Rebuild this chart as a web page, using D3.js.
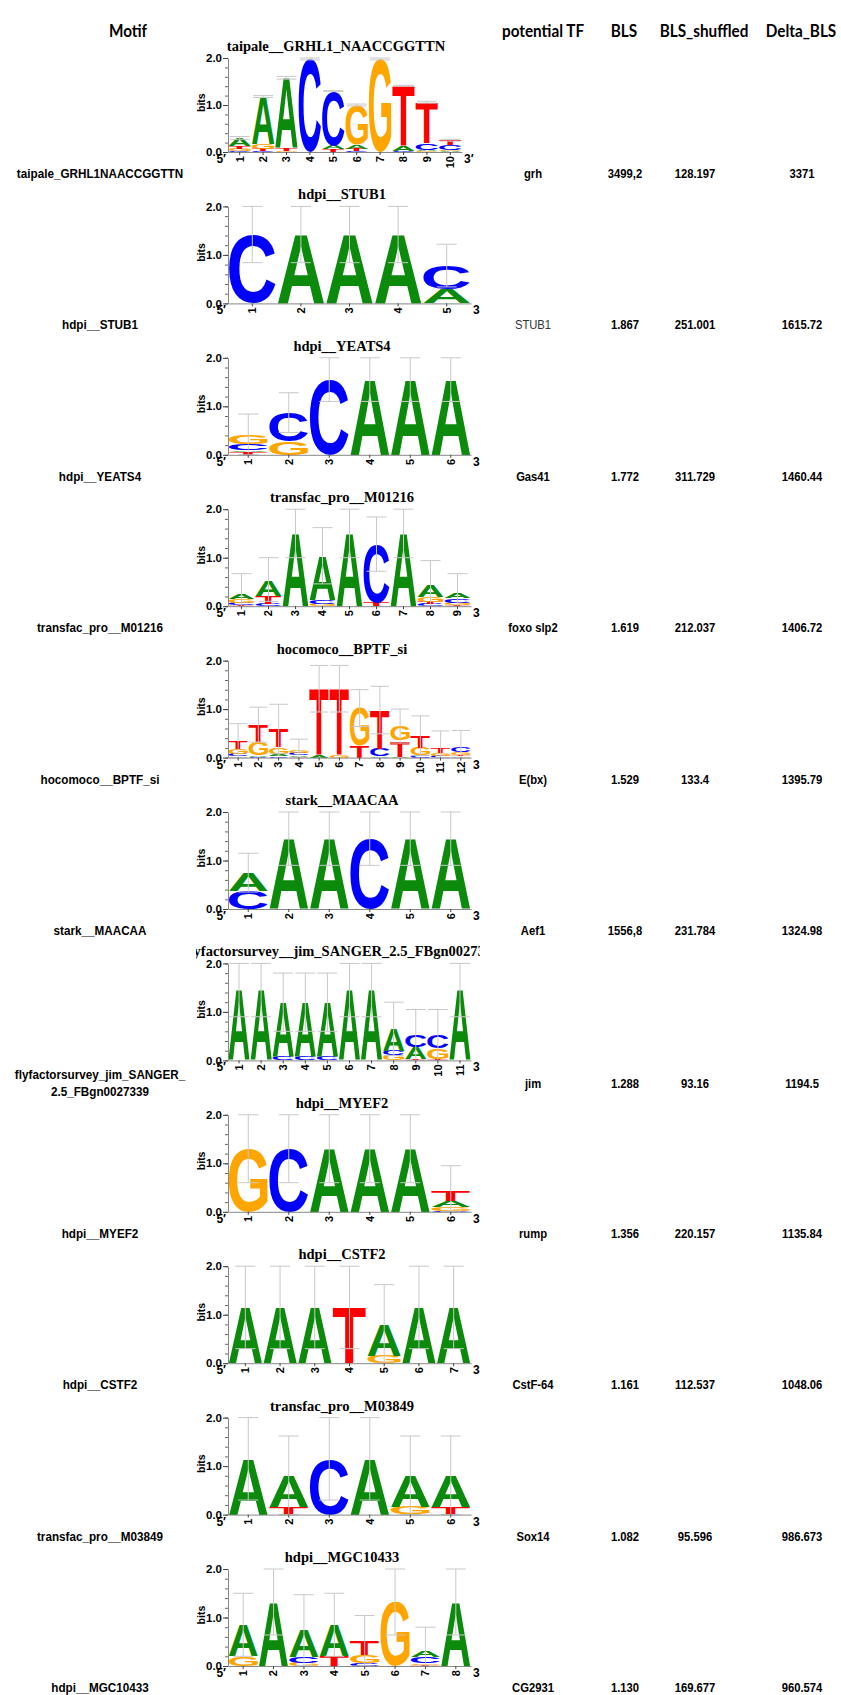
<!DOCTYPE html>
<html>
<head>
<meta charset="utf-8">
<script src="https://cdnjs.cloudflare.com/ajax/libs/d3/7.8.5/d3.min.js"></script>
<style>
  body{margin:0;background:#fff;}
</style>
</head>
<body>
<div id="content"></div>
<script>
(function(){

  //////////////////////////////////////////////////////////////
  //////////////////////// table data //////////////////////////
  //////////////////////////////////////////////////////////////
  var headers = ["Motif", "potential TF", "BLS", "BLS_shuffled", "Delta_BLS"];

  var motifTitles = ["taipale__GRHL1_NAACCGGTTN", "hdpi__STUB1", "hdpi__YEATS4",
    "transfac_pro__M01216", "hocomoco__BPTF_si", "stark__MAACAA",
    "flyfactorsurvey__jim_SANGER_2.5_FBgn0027339", "hdpi__MYEF2", "hdpi__CSTF2",
    "transfac_pro__M03849", "hdpi__MGC10433"];

  var motifLabels = ["taipale_GRHL1NAACCGGTTN", "hdpi__STUB1", "hdpi__YEATS4",
    "transfac_pro__M01216", "hocomoco__BPTF_si", "stark__MAACAA",
    "flyfactorsurvey_jim_SANGER_|2.5_FBgn0027339", "hdpi__MYEF2", "hdpi__CSTF2",
    "transfac_pro__M03849", "hdpi__MGC10433"];

  var potentialTF = ["grh", "STUB1", "Gas41", "foxo slp2", "E(bx)", "Aef1", "jim",
    "rump", "CstF-64", "Sox14", "CG2931"];
  var bls = ["3499,2", "1.867", "1.772", "1.619", "1.529", "1556,8", "1.288",
    "1.356", "1.161", "1.082", "1.130"];
  var blsShuffled = ["128.197", "251.001", "311.729", "212.037", "133.4", "231.784",
    "93.16", "220.157", "112.537", "95.596", "169.677"];
  var deltaBls = ["3371", "1615.72", "1460.44", "1406.72", "1395.79", "1324.98",
    "1194.5", "1135.84", "1048.06", "986.673", "960.574"];

  //////////////////////////////////////////////////////////////
  //////////////////////// logo data (bits) ////////////////////
  //////////////////////////////////////////////////////////////
  // each column: letters bottom -> top, [letter, bits]
  var logoGRHL1 = [
    [["C",0.02],["G",0.05],["T",0.06],["A",0.17]],
    [["C",0.02],["T",0.04],["G",0.10],["A",1.02]],
    [["C",0.01],["G",0.02],["T",0.05],["A",1.50]],
    [["C",1.98]],
    [["G",0.01],["T",0.05],["A",0.08],["C",1.16]],
    [["C",0.02],["T",0.05],["A",0.08],["G",0.85]],
    [["G",1.98]],
    [["C",0.02],["A",0.12],["T",1.27]],
    [["G",0.02],["A",0.03],["C",0.15],["T",0.86]],
    [["A",0.02],["G",0.03],["C",0.10],["T",0.10]]
  ];
  var errGRHL1 = [0.33, 1.20, 1.61, 2.0, 1.31, 1.02, 2.0, 1.42, 1.08, 0.27];

  var logoSTUB1 = [
    [["C",1.42]], [["A",1.42]], [["A",1.42]], [["A",1.42]],
    [["A",0.30],["C",0.48]]
  ];
  var errSTUB1 = [2.0, 2.0, 2.0, 2.0, 1.22];

  var logoYEATS4 = [
    [["T",0.06],["A",0.03],["C",0.13],["G",0.18]],
    [["G",0.27],["C",0.60]],
    [["C",1.55]], [["A",1.55]], [["A",1.55]], [["A",1.55]]
  ];
  var errYEATS4 = [0.84, 1.28, 2.0, 2.0, 2.0, 2.0];

  var logoM01216 = [
    [["T",0.02],["C",0.05],["G",0.07],["A",0.11]],
    [["C",0.05],["T",0.17],["A",0.33]],
    [["A",1.50]],
    [["G",0.04],["C",0.08],["A",0.92]],
    [["A",1.50]],
    [["T",0.08],["C",1.20]],
    [["A",1.50]],
    [["C",0.04],["T",0.05],["G",0.10],["A",0.23]],
    [["T",0.02],["G",0.05],["C",0.09],["A",0.10]]
  ];
  var errM01216 = [0.67, 1.0, 2.0, 1.62, 2.0, 1.84, 2.0, 0.94, 0.67];

  var logoBPTF = [
    [["A",0.03],["C",0.05],["G",0.10],["T",0.15]],
    [["C",0.02],["A",0.03],["G",0.28],["T",0.35]],
    [["C",0.03],["A",0.05],["G",0.13],["T",0.38]],
    [["T",0.02],["A",0.03],["C",0.04],["G",0.04]],
    [["A",0.06],["T",1.36]],
    [["G",0.05],["T",1.37]],
    [["T",0.24],["G",0.78]],
    [["A",0.03],["C",0.15],["T",0.80]],
    [["A",0.02],["T",0.33],["G",0.30]],
    [["C",0.05],["G",0.15],["T",0.25]],
    [["C",0.04],["G",0.06],["T",0.10]],
    [["A",0.03],["T",0.03],["G",0.05],["C",0.10]]
  ];
  var errBPTF = [0.70, 1.04, 1.10, 0.38, 1.90, 1.90, 1.40, 1.47, 1.00, 0.86, 0.55, 0.56];

  var logoMAACAA = [
    [["C",0.38],["A",0.37]],
    [["A",1.45]], [["A",1.45]], [["C",1.45]], [["A",1.45]], [["A",1.45]]
  ];
  var errMAACAA = [1.15, 2.0, 2.0, 2.0, 2.0, 2.0];

  var logoJim = [
    [["A",1.45]], [["A",1.45]],
    [["C",0.08],["A",1.12]], [["C",0.08],["A",1.12]], [["C",0.08],["A",1.12]],
    [["A",1.45]], [["A",1.45]],
    [["G",0.10],["C",0.10],["A",0.45]],
    [["T",0.03],["A",0.24],["C",0.25]],
    [["T",0.03],["G",0.22],["C",0.26]],
    [["A",1.45]]
  ];
  var errJim = [2.0, 2.0, 1.8, 1.8, 1.8, 2.0, 2.0, 1.2, 1.05, 1.05, 2.0];

  var logoMYEF2 = [
    [["G",1.30]], [["C",1.30]], [["A",1.30]], [["A",1.30]], [["A",1.30]],
    [["C",0.02],["G",0.07],["A",0.13],["T",0.22]]
  ];
  var errMYEF2 = [2.0, 2.0, 2.0, 2.0, 2.0, 0.95];

  var logoCSTF2 = [
    [["A",1.15]], [["A",1.15]], [["A",1.15]], [["T",1.15]],
    [["G",0.15],["A",0.65]],
    [["A",1.15]], [["A",1.15]]
  ];
  var errCSTF2 = [2.0, 2.0, 2.0, 2.0, 1.62, 2.0, 2.0];

  var logoM03849 = [
    [["A",1.15]],
    [["T",0.15],["A",0.65]],
    [["C",1.15]],
    [["A",1.15]],
    [["G",0.15],["A",0.65]],
    [["T",0.15],["A",0.65]]
  ];
  var errM03849 = [2.0, 1.62, 2.0, 2.0, 1.62, 1.62];

  var logoMGC10433 = [
    [["G",0.20],["A",0.65]],
    [["A",1.32]],
    [["G",0.07],["C",0.12],["A",0.55]],
    [["T",0.20],["A",0.65]],
    [["C",0.06],["G",0.17],["T",0.28]],
    [["G",1.32]],
    [["T",0.03],["G",0.03],["C",0.13],["A",0.12]],
    [["A",1.32]]
  ];
  var errMGC10433 = [1.50, 2.0, 1.47, 1.50, 1.04, 2.0, 0.80, 2.0];

  var logos = [logoGRHL1, logoSTUB1, logoYEATS4, logoM01216, logoBPTF, logoMAACAA,
    logoJim, logoMYEF2, logoCSTF2, logoM03849, logoMGC10433];
  var errors = [errGRHL1, errSTUB1, errYEATS4, errM01216, errBPTF, errMAACAA,
    errJim, errMYEF2, errCSTF2, errM03849, errMGC10433];

  //////////////////////////////////////////////////////////////
  //////////////////////// layout //////////////////////////////
  //////////////////////////////////////////////////////////////
  var width = 841, height = 1695;
  var labelFont = "'Liberation Sans', Arial, sans-serif";
  var logoFont = "'Liberation Sans', Arial, sans-serif";
  var colors = {A: "#0b8a0b", C: "#0000ff", G: "#ffa500", T: "#ff0000"};
  var narrow = 0.9;   // labels look like a condensed face

  var svg = d3.select("#content").append("svg")
      .attr("width", width)
      .attr("height", height);

  // zero line of each logo, one row per motif
  var rowY = d3.scalePoint()
      .domain(d3.range(motifTitles.length))
      .range([152, 1666]);

  // table columns (header / cell centres)
  var headX = d3.scaleOrdinal()
      .domain(headers)
      .range([128, 543, 624, 704, 801]);
  var cellX = d3.scaleOrdinal()
      .domain(headers)
      .range([100, 533, 625, 695, 802]);

  // glyph ink boxes, measured once on a canvas
  var ctx = document.createElement("canvas").getContext("2d");
  ctx.font = "bold 100px " + logoFont;
  var metrics = {};
  "ACGT".split("").forEach(function(l){
    var m = ctx.measureText(l);
    metrics[l] = {L: m.actualBoundingBoxLeft, R: m.actualBoundingBoxRight,
                  A: m.actualBoundingBoxAscent, D: m.actualBoundingBoxDescent};
  });

  //////////////////////////////////////////////////////////////
  //////////////////////// header //////////////////////////////
  //////////////////////////////////////////////////////////////
  svg.selectAll(".header")
      .data(headers)
    .enter().append("g")
      .attr("class", "header")
      .attr("transform", function(d){ return "translate(" + headX(d) + ",37) scale(0.9,1)"; })
    .append("text")
      .attr("text-anchor", "middle")
      .style("font-family", "Lato, 'Open Sans', sans-serif")
      .style("font-weight", "bold")
      .style("font-size", "17px")
      .text(function(d){ return d; });

  //////////////////////////////////////////////////////////////
  //////////////////////// rows ////////////////////////////////
  //////////////////////////////////////////////////////////////
  svg.append("defs").append("clipPath")
      .attr("id", "logoClip")
    .append("rect")
      .attr("x", 196).attr("y", 0)
      .attr("width", 284).attr("height", height);

  motifTitles.forEach(function(title, i){
    var zero = rowY(i);
    var textY = zero + 26;

    // motif label, may wrap onto two lines
    var lines = motifLabels[i].split("|");
    svg.append("g")
        .attr("transform", "translate(" + cellX("Motif") + "," + (textY - (lines.length - 1) * 7) + ") scale(" + narrow + ",1)")
      .selectAll("text")
        .data(lines)
      .enter().append("text")
        .attr("y", function(d, k){ return k * 17; })
        .attr("text-anchor", "middle")
        .style("font-family", labelFont)
        .style("font-weight", "bold")
        .style("font-size", "13px")
        .text(function(d){ return d; });

    var cells = [potentialTF[i], bls[i], blsShuffled[i], deltaBls[i]];
    svg.selectAll(".cell" + i)
        .data(cells)
      .enter().append("g")
        .attr("class", "cell" + i)
        .attr("transform", function(d, k){
          return "translate(" + cellX(headers[k + 1]) + "," + (textY + (lines.length - 1) * 2) + ") scale(" + narrow + ",1)";
        })
      .append("text")
        .attr("text-anchor", "middle")
        .style("font-family", labelFont)
        .style("font-weight", function(d, k){ return (i === 1 && k === 0) ? "normal" : "bold"; })
        .style("fill", function(d, k){ return (i === 1 && k === 0) ? "#333" : "#000"; })
        .style("font-size", "12.5px")
        .text(function(d){ return d; });

    drawLogo(i, zero);
  });

  //////////////////////////////////////////////////////////////
  //////////////////////// sequence logo ///////////////////////
  //////////////////////////////////////////////////////////////
  function drawLogo(i, zero){
    var cols = logos[i],
        errs = errors[i],
        left = 228,
        right = i === 0 ? 462 : 471,
        bitsH = i === 0 ? 94 : 97;

    var g = svg.append("g")
        .attr("clip-path", "url(#logoClip)");

    var x = d3.scaleBand()
        .domain(d3.range(1, cols.length + 1))
        .range([left, right]);

    var y = d3.scaleLinear()
        .domain([0, 2])
        .range([zero, zero - bitsH]);

    // title
    g.append("text")
        .attr("x", i === 0 ? 336 : 342)
        .attr("y", y(2) - 7)
        .attr("text-anchor", "middle")
        .style("font-family", "'Liberation Serif', 'Times New Roman', serif")
        .style("font-weight", "bold")
        .style("font-size", "14.5px")
        .text(motifTitles[i]);

    // stacks
    cols.forEach(function(stack, c){
      var pos = c + 1,
          w = x.bandwidth() * 0.96,
          x0 = x(pos) + (x.bandwidth() - w) / 2,
          base = 0;
      stack.forEach(function(s){
        var yb = y(base), yt = y(base + s[1]), h = yb - yt;
        base += s[1];
        if (h < 0.4) return;
        var m = metrics[s[0]];
        g.append("text")
            .attr("transform", "translate(" + x0 + "," + yb + ") scale(" +
                  (w / (m.L + m.R)) + "," + (h / (m.A + m.D)) + ") translate(" + m.L + "," + (-m.D) + ")")
            .style("font-family", logoFont)
            .style("font-weight", "bold")
            .style("font-size", "100px")
            .style("fill", colors[s[0]])
            .text(s[0]);
      });

      // error bar centred on the stack top
      var top = errs[c],
          bottom = Math.max(0, 2 * base - top),
          cx = x(pos) + x.bandwidth() / 2,
          cap = Math.min(10, x.bandwidth() * 0.45);
      var eb = g.append("g")
          .style("stroke", "#c8c8c8")
          .style("stroke-width", "1px");
      eb.append("line").attr("x1", cx).attr("x2", cx).attr("y1", y(bottom)).attr("y2", y(top));
      eb.append("line").attr("x1", cx - cap).attr("x2", cx + cap).attr("y1", y(top)).attr("y2", y(top));
      eb.append("line").attr("x1", cx - cap).attr("x2", cx + cap).attr("y1", y(bottom)).attr("y2", y(bottom));
    });

    // y axis: minor then major ticks
    var yMinor = g.append("g")
        .attr("transform", "translate(" + left + ",0)")
        .call(d3.axisLeft(y).tickValues(d3.range(0, 2.01, 0.2)).tickSize(3).tickFormat(""));
    yMinor.select(".domain").remove();
    yMinor.selectAll("line").style("stroke", "#666");

    var yAxis = g.append("g")
        .attr("transform", "translate(" + left + ",0)")
        .call(d3.axisLeft(y).tickValues([0, 1, 2]).tickSize(5).tickSizeOuter(0).tickPadding(1).tickFormat(d3.format(".1f")));
    yAxis.select(".domain").style("stroke", "#888");
    yAxis.selectAll("line").style("stroke", "#444");
    yAxis.selectAll("text")
        .style("font-family", logoFont)
        .style("font-weight", "bold")
        .style("font-size", "11.5px")
        .style("fill", "#000");

    g.append("text")
        .attr("transform", "translate(" + (left - 23) + "," + y(1.05) + ") rotate(-90)")
        .attr("text-anchor", "middle")
        .style("font-family", logoFont)
        .style("font-weight", "bold")
        .style("font-size", "10.5px")
        .text("bits");

    // x axis with rotated positions
    var xAxis = g.append("g")
        .attr("transform", "translate(0," + zero + ")")
        .call(d3.axisBottom(x).tickSize(3).tickSizeOuter(0));
    xAxis.select(".domain").style("stroke", "#888");
    xAxis.selectAll("line").style("stroke", "#444");
    xAxis.selectAll("text")
        .attr("transform", "rotate(-90)")
        .attr("x", -4)
        .attr("y", 0)
        .attr("dy", "0.35em")
        .attr("text-anchor", "end")
        .style("font-family", logoFont)
        .style("font-weight", "bold")
        .style("font-size", "11px")
        .style("fill", "#000");

    g.append("text")
        .attr("x", left - 2)
        .attr("y", zero + 11)
        .attr("text-anchor", "end")
        .style("font-family", logoFont)
        .style("font-weight", "bold")
        .style("font-size", "12px")
        .text("5\u2032");

    g.append("text")
        .attr("x", right + 2)
        .attr("y", zero + 11)
        .style("font-family", logoFont)
        .style("font-weight", "bold")
        .style("font-size", "12px")
        .text("3\u2032");
  }

})();
</script>
</body>
</html>
